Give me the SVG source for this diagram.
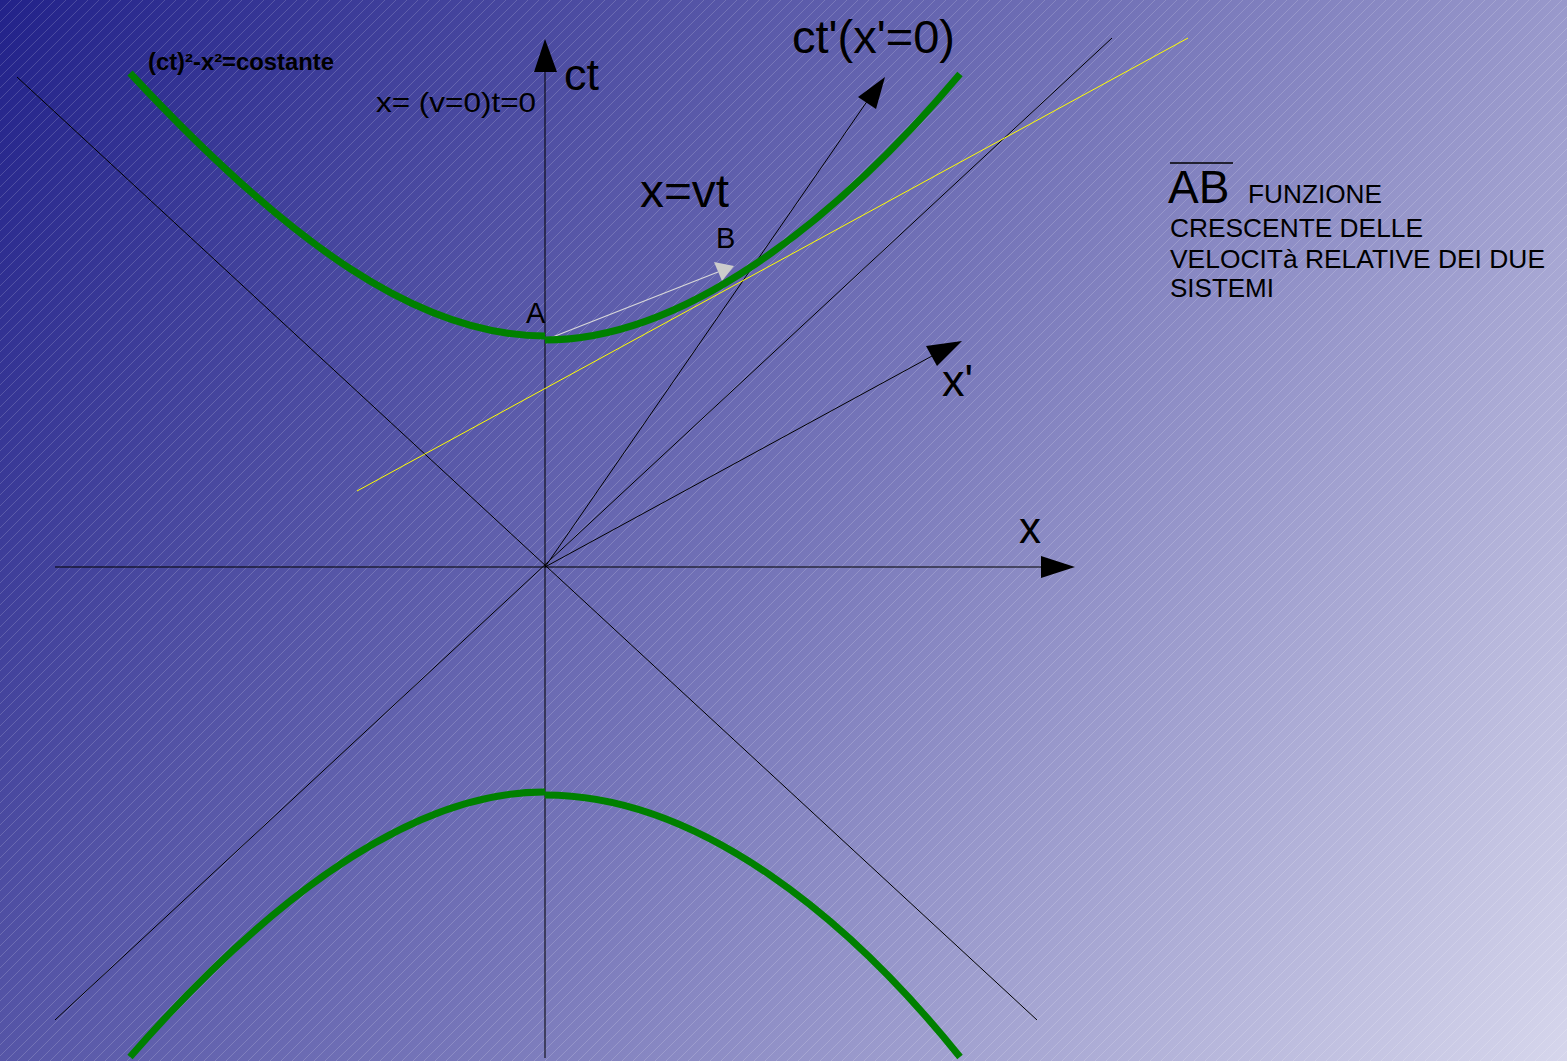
<svg xmlns="http://www.w3.org/2000/svg" width="1567" height="1061" viewBox="0 0 1567 1061">
  <defs>
    <linearGradient id="bg" gradientUnits="userSpaceOnUse" x1="0" y1="0" x2="1567" y2="1061">
      <stop offset="0" stop-color="#22228a"/>
      <stop offset="0.5" stop-color="#7474b8"/>
      <stop offset="1" stop-color="#d6d6ec"/>
    </linearGradient>
    <pattern id="hatch" patternUnits="userSpaceOnUse" width="11" height="11">
      <path d="M-1,12 L12,-1 M-1,1 L1,-1 M10,12 L12,10" stroke="#ffffff" stroke-opacity="0.28" stroke-width="0.6"/>
    </pattern>
  </defs>
  <style>
    .ax { stroke: #000; stroke-width: 1; fill: none; }
    .hyp { stroke: #008000; stroke-width: 7; fill: none; }
    .lbl { font-family: "Liberation Sans", Arial, sans-serif; fill: #000; }
    .head { fill: #000; }
  </style>

  <rect width="1567" height="1061" fill="url(#bg)"/>
  <rect width="1567" height="1061" fill="url(#hatch)"/>

  <g id="connectors">
    <line class="ax" x1="17" y1="77" x2="1037" y2="1020"/>
    <line class="ax" x1="55" y1="1020" x2="1112" y2="38"/>
    <line class="ax" x1="545" y1="1058" x2="545" y2="70"/>
    <polygon class="head" points="545,39 534,72 557,72"/>
    <line class="ax" x1="55" y1="567" x2="1045" y2="567"/>
    <polygon class="head" points="1075,567 1041,556 1041,578"/>
    <line class="ax" x1="545" y1="567" x2="868" y2="100"/>
    <polygon class="head" points="885,77 858,97 876,109"/>
    <line class="ax" x1="545" y1="567" x2="932" y2="356"/>
    <polygon class="head" points="962,341 926,346 937,366"/>
    <line x1="357" y1="491" x2="1188" y2="38" stroke="#ffff00" stroke-width="1"/>
    <line x1="545" y1="340" x2="718" y2="272" stroke="#d8d8d8" stroke-width="1.3"/>
    <polygon points="734,266 714,262 722,281" fill="#cccccc"/>
  </g>

  <g id="hyperbola-upper">
    <path class="hyp" d="M130,73 C290,245 420,336 545,336"/>
    <path class="hyp" d="M545,340 C680,340 830,228 960,74"/>
  </g>
  <g id="hyperbola-lower">
    <path class="hyp" d="M130,1057 C250,920 400,791 545,792"/>
    <path class="hyp" d="M545,795 C700,795 850,920 960,1057"/>
  </g>

  <g id="label-costante">
    <text class="lbl" x="148" y="70" font-size="23" font-weight="bold" textLength="186" lengthAdjust="spacingAndGlyphs">(ct)²-x²=costante</text>
  </g>
  <g id="label-v0">
    <text class="lbl" x="376" y="112" font-size="28" textLength="160" lengthAdjust="spacingAndGlyphs">x= (v=0)t=0</text>
  </g>
  <g id="label-ct">
    <text class="lbl" x="564" y="90" font-size="45">ct</text>
  </g>
  <g id="label-ctprime">
    <text class="lbl" x="792" y="53" font-size="47" textLength="163" lengthAdjust="spacingAndGlyphs">ct'(x'=0)</text>
  </g>
  <g id="label-xvt">
    <text class="lbl" x="640" y="207" font-size="46" textLength="89" lengthAdjust="spacingAndGlyphs">x=vt</text>
  </g>
  <g id="label-A">
    <text class="lbl" x="526" y="323" font-size="29">A</text>
  </g>
  <g id="label-B">
    <text class="lbl" x="716" y="248" font-size="29">B</text>
  </g>
  <g id="label-xprime">
    <text class="lbl" x="942" y="396" font-size="45">x'</text>
  </g>
  <g id="label-x">
    <text class="lbl" x="1019" y="543" font-size="44">x</text>
  </g>
  <g id="note">
    <line x1="1170" y1="163" x2="1233" y2="163" stroke="#000" stroke-width="1.3"/>
    <text class="lbl" x="1168" y="203" font-size="46">AB</text>
    <text class="lbl" x="1248" y="203" font-size="25" textLength="134" lengthAdjust="spacingAndGlyphs">FUNZIONE</text>
    <text class="lbl" x="1170" y="237" font-size="25" textLength="253" lengthAdjust="spacingAndGlyphs">CRESCENTE DELLE</text>
    <text class="lbl" x="1170" y="268" font-size="25" textLength="375" lengthAdjust="spacingAndGlyphs">VELOCITà RELATIVE DEI DUE</text>
    <text class="lbl" x="1170" y="297" font-size="25" textLength="104" lengthAdjust="spacingAndGlyphs">SISTEMI</text>
  </g>
</svg>
